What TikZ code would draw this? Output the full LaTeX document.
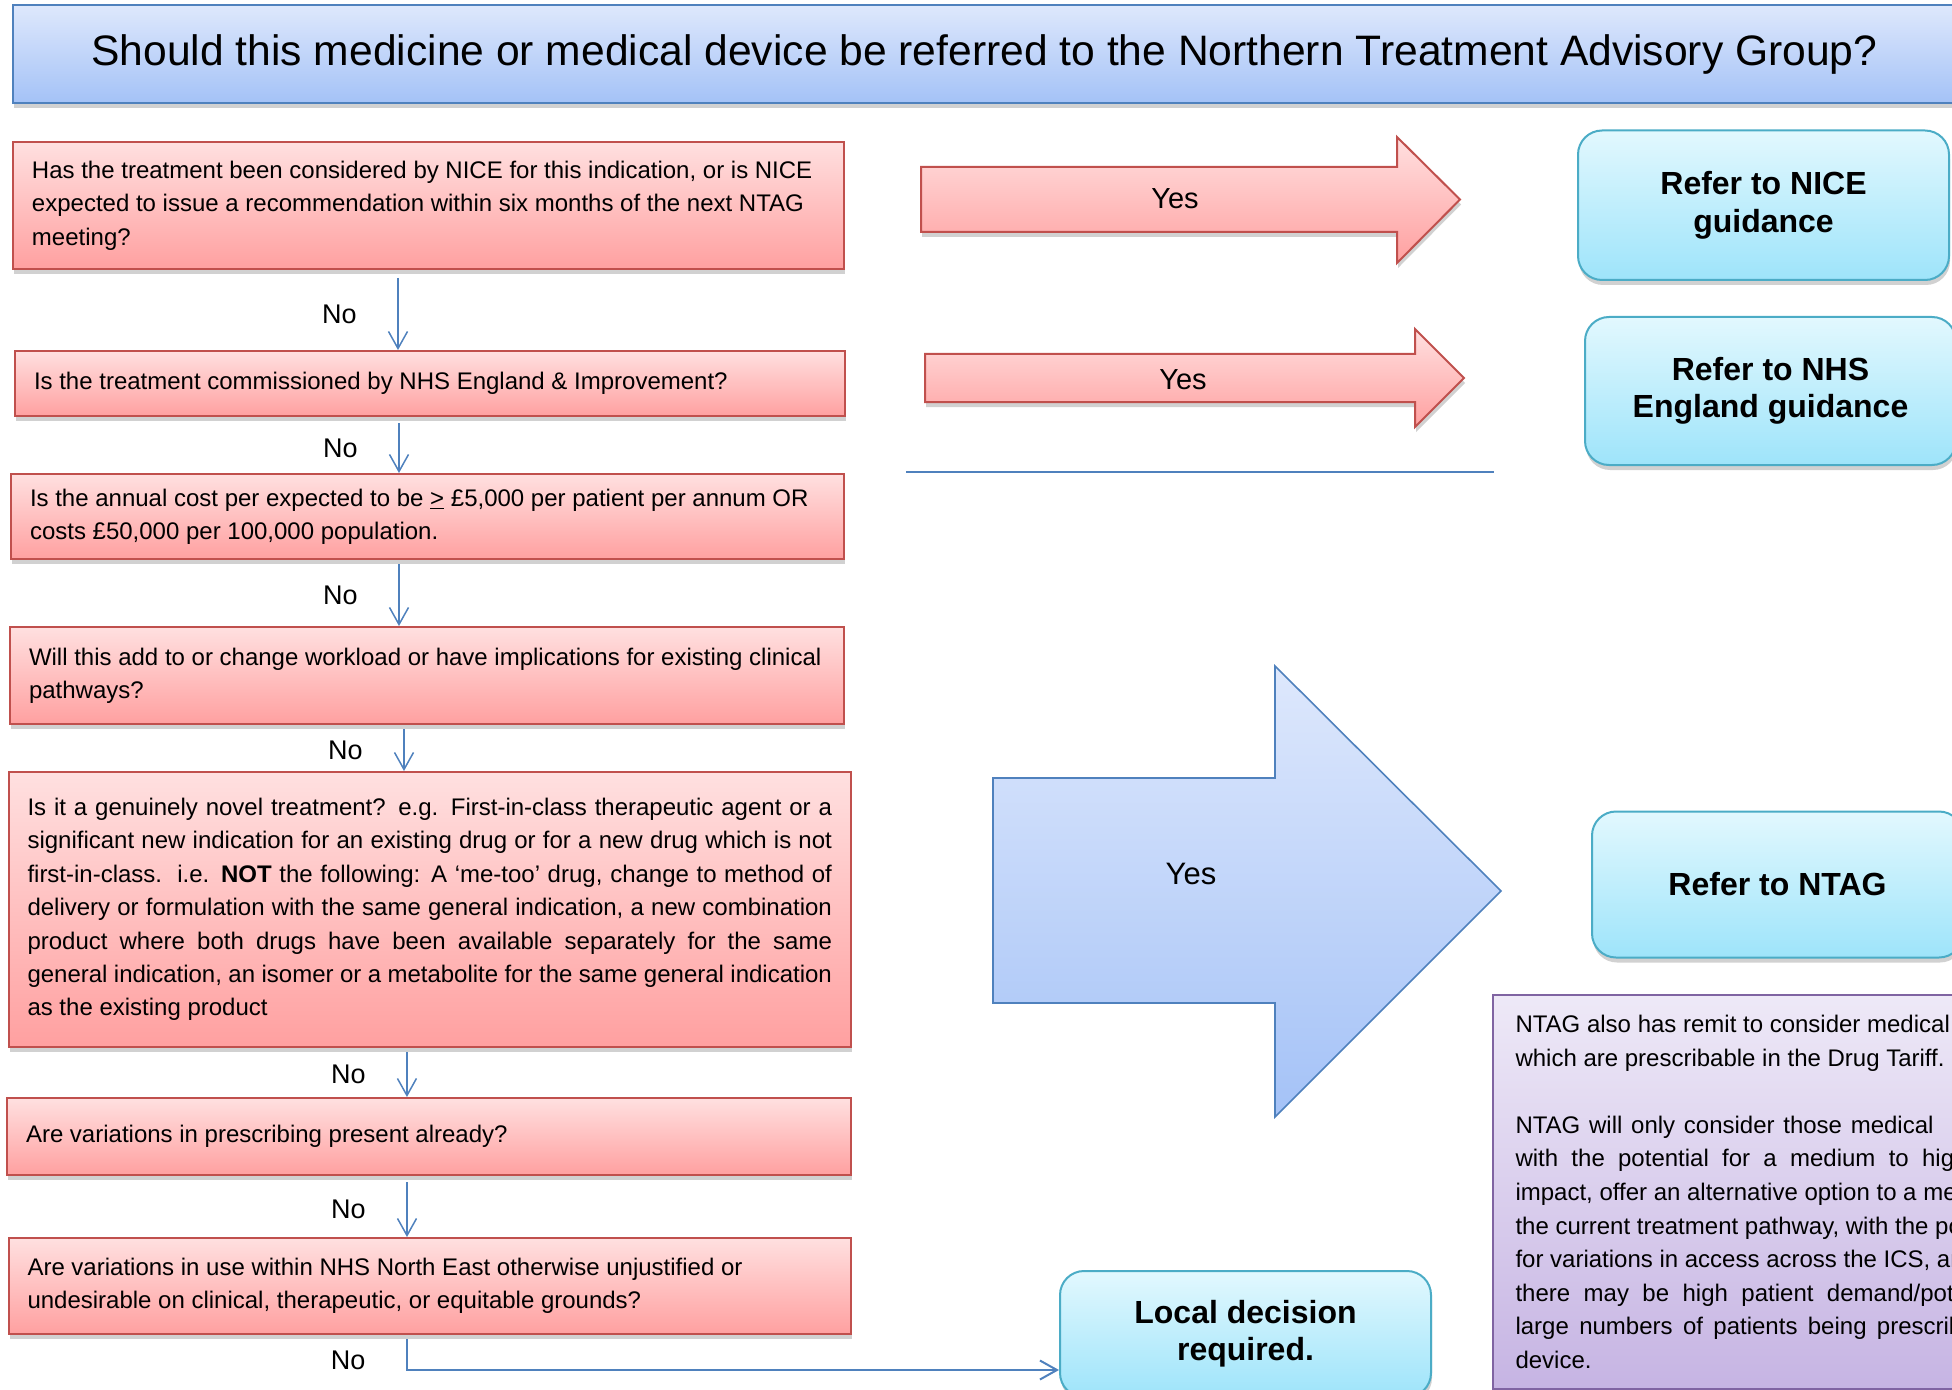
\documentclass[tikz,border=0pt]{standalone}
\usepackage{fontspec}
\setmainfont{Liberation Sans}
\usepackage{tikz}
\usetikzlibrary{arrows.meta}
\usetikzlibrary{shadows}
\usepackage{xcolor}

\definecolor{redtop}{RGB}{255,224,224}
\definecolor{redbot}{RGB}{255,160,160}
\definecolor{redline}{RGB}{192,80,77}
\definecolor{bluetop}{RGB}{222,232,252}
\definecolor{bluebot}{RGB}{164,194,247}
\definecolor{blueline}{RGB}{79,129,189}
\definecolor{cyantop}{RGB}{226,248,254}
\definecolor{cyanbot}{RGB}{158,228,250}
\definecolor{cyanline}{RGB}{75,172,198}
\definecolor{violettop}{RGB}{238,233,247}
\definecolor{violetbot}{RGB}{198,180,227}
\definecolor{violetline}{RGB}{128,100,162}

\tikzset{
  softshadow/.style={drop shadow={shadow xshift=0.5pt, shadow yshift=-2.5pt, opacity=0.3, fill=black!60}},
  titlebox/.style={draw=blueline, line width=1pt, top color=bluetop, bottom color=bluebot,
    anchor=north west, minimum width=971.5pt, minimum height=49pt,
    font=\fontsize{21.3}{25}\selectfont, softshadow},
  qbox/.style={draw=redline, line width=1pt, top color=redtop, bottom color=redbot,
    anchor=north west, inner xsep=9.5pt, align=flush left,
    font=\fontsize{12}{16.7}\selectfont, softshadow},
  outbox/.style={draw=cyanline, line width=1pt, top color=cyantop, bottom color=cyanbot,
    rounded corners=12pt, anchor=north west, minimum width=185.5pt, align=center,
    font=\bfseries\fontsize{16}{18.7}\selectfont, softshadow},
  notebox/.style={draw=violetline, line width=1pt, top color=violettop, bottom color=violetbot,
    anchor=north west, inner xsep=11.5pt, inner ysep=10.25pt, text width=270pt, align=flush left,
    font=\fontsize{12}{16.8}\selectfont},
  yesarrow/.style={draw=redline, line width=1pt, top color=redtop, bottom color=redbot, softshadow},
  bigarrow/.style={draw=blueline, line width=0.8pt, top color=bluetop, bottom color=bluebot},
  flow/.style={draw=blueline, line width=0.75pt, -{Straight Barb[length=8.5pt,width=9.5pt]}},
  nolabel/.style={left=17pt, font=\fontsize{13.5}{16}\selectfont},
  yeslabel/.style={font=\fontsize{14.5}{17}\selectfont}
}

\begin{document}
\hyphenpenalty=10000
\begin{tikzpicture}[x=0.5pt,y=-0.5pt]
    \useasboundingbox (0,0) rectangle (1952,1390);
    \clip (0,0) rectangle (1952,1390);
    % title
    \node[titlebox] (title) at (12,4) {Should this medicine or medical device be referred to the Northern Treatment Advisory Group?};
    % questions
    \node[qbox, text width=396.5pt, minimum height=63.5pt] (q1) at (12,141)
        {Has the treatment been considered by NICE for this indication, or is NICE\\
         expected to issue a recommendation within six months of the next NTAG\\
         meeting?};
    \node[qbox, text width=396pt, minimum height=32.5pt] (q2) at (14,350)
        {Is the treatment commissioned by NHS England \& Improvement?};
    \node[qbox, text width=397.5pt, minimum height=42.5pt] (q3) at (10,473)
        {Is the annual cost per expected to be \underline{>} £5,000 per patient per annum OR\\
         costs £50,000 per 100,000 population.};
    \node[qbox, text width=398pt, minimum height=48.5pt] (q4) at (9,626)
        {Will this add to or change workload or have implications for existing clinical\\
         pathways?};
    \node[qbox, text width=402.25pt, minimum height=137.5pt, align=justify] (q5) at (7.5,771)
        {Is it a genuinely novel treatment? e.g. First-in-class therapeutic agent or a\linebreak
         significant new indication for an existing drug or for a new drug which is not\linebreak
         first-in-class.\ \ i.e. \textbf{NOT} the following: A ‘me-too’ drug, change to method of\linebreak
         delivery or formulation with the same general indication, a new combination\linebreak
         product where both drugs have been available separately for the same\linebreak
         general indication, an isomer or a metabolite for the same general indication\linebreak
         as the existing product};
    \node[qbox, text width=403pt, minimum height=38.5pt] (q6) at (6,1097)
        {Are variations in prescribing present already?};
    \node[qbox, text width=402.25pt, minimum height=48pt] (q7) at (7.5,1237)
        {Are variations in use within NHS North East otherwise unjustified or\\
         undesirable on clinical, therapeutic, or equitable grounds?};
    % outcomes
    \node[outbox, minimum height=74.75pt] (nice) at (1577,129.5) {Refer to NICE\\guidance};
    \node[outbox, minimum height=74pt] (nhse) at (1584,316) {Refer to NHS\\England guidance};
    \node[outbox, minimum height=73pt] (ntag) at (1591,810.5) {Refer to NTAG};
    \node[outbox, minimum height=63pt] (local) at (1059,1270) {Local decision\\required.};
    % note
    \node[notebox] (note) at (1491.5,993.5)
        {NTAG also has remit to consider medical\\
         which are prescribable in the Drug Tariff.\\[16.8pt]
         \makebox[209pt][s]{NTAG will only consider those medical}\\
         \makebox[226pt][s]{with the potential for a medium to high}\\
         impact, offer an alternative option to a medicine\\
         the current treatment pathway, with the potential\\
         for variations in access across the ICS, and\\
         \makebox[256.5pt][s]{there may be high patient demand/potentially}\\
         \makebox[236.8pt][s]{large numbers of patients being prescribed}\\
         device.};
    % yes arrows
    \filldraw[yesarrow] (921,167) -- (1397,167) -- (1397,137) -- (1460,199.5) -- (1397,263) -- (1397,232) -- (921,232) -- cycle;
    \node[yeslabel] (yes1) at (1175,199) {Yes};
    \filldraw[yesarrow] (925,354) -- (1415,354) -- (1415,329) -- (1464,378) -- (1415,427) -- (1415,402) -- (925,402) -- cycle;
    \node[yeslabel] (yes2) at (1183,380) {Yes};
    \draw[blueline, line width=1.2pt] (906,472) -- (1494,472);
    \filldraw[bigarrow] (993,778) -- (1275,778) -- (1275,666) -- (1501,891) -- (1275,1117) -- (1275,1003) -- (993,1003) -- cycle;
    \node[yeslabel, font=\fontsize{15.5}{18}\selectfont] (yes3) at (1191,874) {Yes};
    % no arrows
    \draw[flow] ([xshift=-15.25pt,yshift=-4pt]q1.south) -- node[nolabel] {No} ([xshift=-15.25pt]q1.south |- q2.north);
    \draw[flow] ([xshift=-15.5pt,yshift=-3pt]q2.south) -- node[nolabel] {No} ([xshift=-15.5pt]q2.south |- q3.north);
    \draw[flow] ([xshift=-14.25pt,yshift=-2pt]q3.south) -- node[nolabel] {No} ([xshift=-14.25pt]q3.south |- q4.north);
    \draw[flow] ([xshift=-11.5pt,yshift=-2pt]q4.south) -- node[nolabel] {No} ([xshift=-11.5pt]q4.south |- q5.north);
    \draw[flow] ([xshift=-11.4pt,yshift=-2pt]q5.south) -- node[nolabel] {No} ([xshift=-11.4pt]q5.south |- q6.north);
    \draw[flow] ([xshift=-11pt,yshift=-3pt]q6.south) -- node[nolabel] {No} ([xshift=-11pt]q6.south |- q7.north);
    \draw[flow, line width=1pt] ([xshift=-11.4pt,yshift=-2pt]q7.south) |- node[nolabel, pos=0.35] {No} ([yshift=-18pt]local.west);
\end{tikzpicture}
\end{document}
